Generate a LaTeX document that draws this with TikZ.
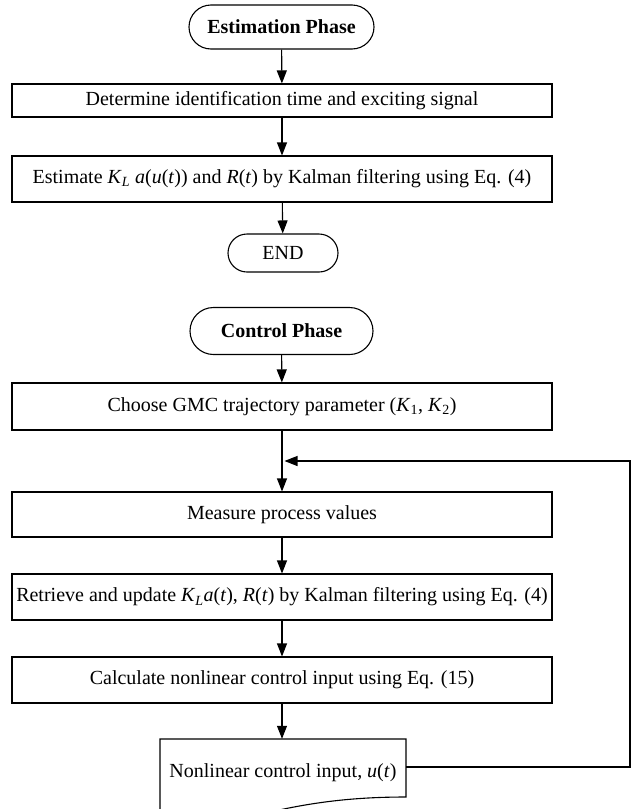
\documentclass[tikz,border=0pt]{standalone}
\usepackage{fontspec}
\setmainfont{Liberation Serif}
\usetikzlibrary{arrows.meta}
\begin{document}
\begin{tikzpicture}[x=1pt,y=-1pt,
  every node/.style={font=\fontsize{20}{23}\selectfont, inner sep=0pt},
  procbox/.style={draw, line width=1.1pt, minimum width=540pt, anchor=center},
  term/.style={draw, line width=1.1pt, anchor=center},
  conn/.style={line width=1.1pt, -{Triangle[length=13pt,width=10pt]}},
  plainline/.style={line width=1.1pt}]
\useasboundingbox (0,0) rectangle (633,809);
% Estimation phase
\node[term, minimum width=185pt, minimum height=44pt, rounded corners=22pt] (est) at (281.5,27) {\textbf{Estimation Phase}};
\node[procbox, minimum height=33pt] (b1) at (282,100.5) {Determine identification time and exciting signal};
\node[procbox, minimum height=46pt] (b2) at (282,179) {Estimate \textit{K}\textsubscript{\textit{L}} \textit{a}(\textit{u}(\textit{t})) and \textit{R}(\textit{t}) by Kalman filtering using Eq. (4)};
\node[term, minimum width=110pt, minimum height=38pt, rounded corners=19pt] (endn) at (283,253) {END};
% Control phase
\node[term, minimum width=183pt, minimum height=47pt, rounded corners=23.5pt] (ctrl) at (281.5,331) {\textbf{Control Phase}};
\node[procbox, minimum height=47pt] (choose) at (282,406.5) {Choose GMC trajectory parameter (\textit{K}\textsubscript{1}, \textit{K}\textsubscript{2})};
\node[procbox, minimum height=45pt] (meas) at (282,514.5) {Measure process values};
\node[procbox, minimum height=46pt] (retr) at (282,597) {Retrieve and update \textit{K}\textsubscript{\textit{L}}\textit{a}(\textit{t}), \textit{R}(\textit{t}) by Kalman filtering using Eq. (4)};
\node[procbox, minimum height=46pt] (calc) at (282,680) {Calculate nonlinear control input using Eq. (15)};
\node[minimum width=246pt, minimum height=68pt] (doc) at (283,773) {Nonlinear control input, \textit{u}(\textit{t})};
% document outline
\draw[plainline] (160,830) -- (160,739) -- (406,739) -- (406,797)
  .. controls (350,797) and (310,803) .. (270,812);
% connectors
\draw[conn] (est) -- (b1);
\draw[conn] (b1) -- (b2);
\draw[conn] (b2) -- (endn);
\draw[conn] (ctrl) -- (choose);
\draw[conn] (choose) -- (meas);
\draw[conn] (meas) -- (retr);
\draw[conn] (retr) -- (calc);
\draw[conn] (calc.south) -- (calc.south |- doc.north);
\coordinate (fbR) at (630,767);
\coordinate (fbT) at (630,461);
\coordinate (join) at (283,461);
\draw[conn, shorten >=1.5pt] (406,767) -- (fbR) -- (fbT) -- (join);
\end{tikzpicture}
\end{document}
